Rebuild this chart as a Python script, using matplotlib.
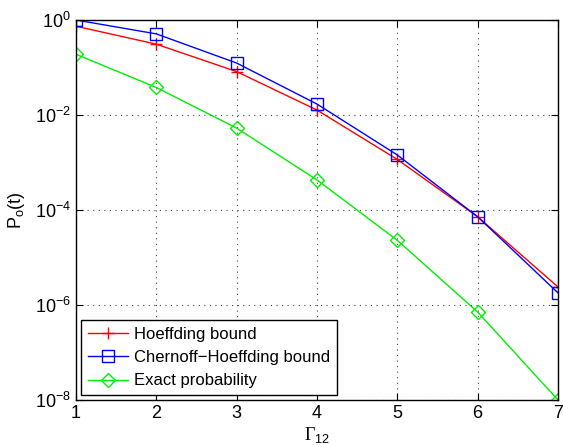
import numpy as np
import matplotlib
matplotlib.use("Agg")
import matplotlib.pyplot as plt
from matplotlib.ticker import FixedLocator, NullLocator

plt.rcParams["font.family"] = ["Liberation Sans", "DejaVu Sans"]
plt.rcParams["mathtext.fontset"] = "custom"
plt.rcParams["mathtext.rm"] = "Liberation Sans"
plt.rcParams["mathtext.it"] = "Liberation Sans:italic"
plt.rcParams["mathtext.sf"] = "Liberation Serif"

gamma12 = [1, 2, 3, 4, 5, 6, 7]
hoeffding = [0.74, 0.31, 0.082, 0.0127, 1.16e-3, 7.2e-5, 2.4e-6]
chernoff_hoeffding = [1.0, 0.51, 0.124, 0.017, 1.44e-3, 7.2e-5, 1.8e-6]
exact_prob = [0.19, 0.038, 5.3e-3, 4.3e-4, 2.3e-5, 7.1e-7, 1.0e-8]

fig = plt.figure(figsize=(5.63, 4.45), dpi=100)
ax = fig.add_axes([76 / 563, 45 / 445, 482 / 563, 380 / 445])

ax.semilogy(gamma12, hoeffding, color="#ff0000", marker="+", markersize=8,
            markeredgewidth=1.0, linewidth=1.0, label="Hoeffding bound")
ax.semilogy(gamma12, chernoff_hoeffding, color="#0000ff", marker="s",
            markersize=8, markerfacecolor="none", markeredgewidth=1.0,
            linewidth=1.0, label="Chernoff\u2212Hoeffding bound")
ax.semilogy(gamma12, exact_prob, color="#00ee00", marker="D", markersize=7,
            markerfacecolor="none", markeredgewidth=1.0, linewidth=1.0,
            label="Exact probability")

ax.set_xlim(1, 7)
ax.set_ylim(1e-8, 1)
ax.xaxis.set_major_locator(FixedLocator(gamma12))
ax.yaxis.set_major_locator(FixedLocator([1e-8, 1e-6, 1e-4, 1e-2, 1e0]))
ax.yaxis.set_minor_locator(NullLocator())
ax.tick_params(direction="in", top=True, right=True, labelsize=13,
               length=5, width=0.8)
ax.grid(True, which="major", linestyle=(0, (1, 4)), color="#444444",
        linewidth=0.8)

for s in ax.spines.values():
    s.set_linewidth(1.0)

ax.set_xlabel(r"$\mathsf{\Gamma}_{12}$", fontsize=13, labelpad=2)
ax.set_ylabel(r"P$_{\rm o}$(t)", fontsize=13, labelpad=6)

leg = ax.legend(loc="lower left", fontsize=12, fancybox=False,
                edgecolor="black", framealpha=1.0, handlelength=2.4,
                handletextpad=0.4, borderaxespad=0.3, labelspacing=0.5,
                borderpad=0.4)
leg.get_frame().set_linewidth(1.0)

fig.savefig("out.png", dpi=100)
